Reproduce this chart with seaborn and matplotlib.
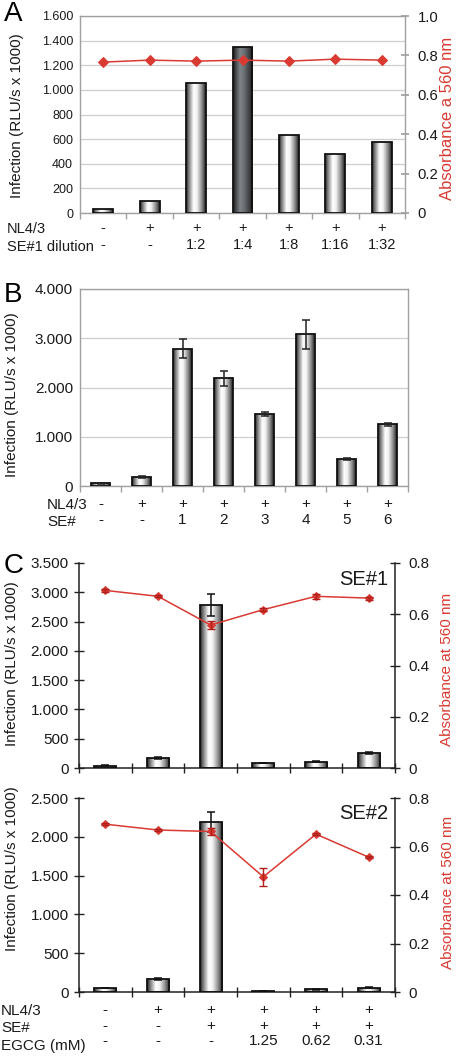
import numpy as np
import pandas as pd
import matplotlib
matplotlib.use("Agg")
import matplotlib.pyplot as plt
import seaborn as sns
from matplotlib.colors import LinearSegmentedColormap
from matplotlib.ticker import FuncFormatter, MultipleLocator

# ---------------- data ----------------
a_nl43 = ['-', '+', '+', '+', '+', '+', '+']
a_dilution = ['-', '-', '1:2', '1:4', '1:8', '1:16', '1:32']
a_infection = [30, 95, 1055, 1350, 635, 478, 580]
a_absorbance = [0.766, 0.776, 0.771, 0.776, 0.771, 0.781, 0.776]

b_nl43 = ['-', '+', '+', '+', '+', '+', '+', '+']
b_se = ['-', '-', '1', '2', '3', '4', '5', '6']
b_infection = [60, 175, 2790, 2185, 1465, 3080, 545, 1255]
b_err = [10, 20, 190, 150, 40, 290, 15, 30]

c_nl43 = ['-', '+', '+', '+', '+', '+']
c_se = ['-', '-', '+', '+', '+', '+']
c_egcg = ['-', '-', '-', '1.25', '0.62', '0.31']
c1_infection = [40, 170, 2780, 85, 110, 255]
c1_err = [5, 15, 190, 5, 8, 12]
c1_absorbance = [0.693, 0.670, 0.558, 0.618, 0.670, 0.663]
c1_abs_err = [0.005, 0.004, 0.016, 0.006, 0.010, 0.006]
c2_infection = [50, 170, 2190, 15, 35, 55]
c2_err = [4, 12, 125, 3, 6, 5]
c2_absorbance = [0.692, 0.668, 0.662, 0.475, 0.651, 0.556]
c2_abs_err = [0.004, 0.004, 0.014, 0.038, 0.004, 0.004]

# ---------------- style ----------------
sns.set_theme(style="white")
plt.rcParams['font.family'] = ['Liberation Sans', 'DejaVu Sans']
TXT = '#1a1a1a'
RED = '#d93a32'
GRAY = '#a0a0a0'

light_cmap = LinearSegmentedColormap.from_list(
    'light', [(0, '#1c1c1c'), (0.12, '#707070'), (0.38, '#ffffff'),
              (0.55, '#f2f2f2'), (0.8, '#8a8a8a'), (1, '#1c1c1c')])
dark_cmap = LinearSegmentedColormap.from_list(
    'dark', [(0, '#1c1c1c'), (0.35, '#7e8388'), (0.55, '#6d7277'),
             (1, '#1e1e1e')])


def thousands(v, pos=None):
    return f"{int(round(v)):,}".replace(',', '.')


def frac(v, pos=None):
    return '0' if abs(v) < 1e-9 else f"{v:.1f}"


def shade_bars(ax, cmaps):
    grad = np.linspace(0, 1, 256).reshape(1, -1)
    for p, cm in zip(ax.patches, cmaps):
        x0, y0 = p.get_x(), p.get_y()
        w, h = p.get_width(), p.get_height()
        p.set_facecolor('none')
        p.set_zorder(3)
        im = ax.imshow(grad, extent=[x0, x0 + w, y0, y0 + h], aspect='auto',
                       cmap=cm, zorder=2.5, interpolation='bilinear')
        im.set_clip_path(p)


def bars(ax, values, width):
    n = len(values)
    df = pd.DataFrame({'pos': np.arange(n), 'val': values})
    sns.barplot(data=df, x='pos', y='val', ax=ax, width=width, color='white',
                edgecolor='#111111', linewidth=1.3, errorbar=None)
    ax.set_xlim(-0.5, n - 0.5)
    ax.set_xlabel('')
    ax.set_ylabel('')


fig = plt.figure(figsize=(4.57, 10.56), dpi=100)
W, H = 457.0, 1056.0


def add_ax(l, r, t, b):
    return fig.add_axes([l / W, 1 - b / H, (r - l) / W, (b - t) / H])


# ---------------- Panel A ----------------
axA = add_ax(80, 405, 16, 213)
bars(axA, a_infection, 0.43)
nA = len(a_infection)
shade_bars(axA, [dark_cmap if d == '1:4' else light_cmap for d in a_dilution])
axA.set_ylim(0, 1600)
axA.yaxis.set_major_locator(MultipleLocator(200))
axA.yaxis.set_major_formatter(FuncFormatter(thousands))
axA.set_axisbelow(True)
axA.yaxis.grid(True, color='#cfcfcf', lw=0.9)
for s in axA.spines.values():
    s.set_color(GRAY)
    s.set_linewidth(1.0)
axA.set_xticks(range(nA))
axA.set_xticklabels([f"{a}\n{b}" for a, b in zip(a_nl43, a_dilution)],
                    fontsize=10.5, color=TXT, linespacing=1.2)
axA.set_xticks(np.arange(nA + 1) - 0.5, minor=True)
axA.tick_params(axis='x', which='major', length=0, pad=6)
axA.tick_params(axis='x', which='minor', length=4, color=GRAY, direction='out', bottom=True)
axA.tick_params(axis='y', labelsize=9, colors=TXT, length=0, pad=5)
axA2 = axA.twinx()
sns.lineplot(x=np.arange(nA), y=a_absorbance, ax=axA2, color=RED, marker='D',
             markersize=5, markeredgecolor=RED, lw=1.1)
axA2.set_ylim(0, 1.0)
axA2.yaxis.set_major_locator(MultipleLocator(0.2))
axA2.yaxis.set_major_formatter(FuncFormatter(frac))
axA2.tick_params(axis='y', labelsize=10.7, labelcolor=TXT, color=GRAY,
                 direction='inout', length=6, pad=6)
for s in axA2.spines.values():
    s.set_visible(False)
axA2.set_xlim(-0.5, nA - 0.5)
fig.text(17 / W, 1 - 116 / H, 'Infection (RLU/s x 1000)', rotation=90,
         ha='center', va='center', fontsize=11, color=TXT)
fig.text(448 / W, 1 - 118 / H, 'Absorbance a 560 nm', rotation=90,
         ha='center', va='center', fontsize=12, color=RED)
fig.text(7 / W, 1 - 229 / H, 'NL4/3', ha='left', va='center', fontsize=10.5, color=TXT)
fig.text(7 / W, 1 - 247 / H, 'SE#1 dilution', ha='left', va='center', fontsize=10.5, color=TXT)
fig.text(4 / W, 1 - 1 / H, 'A', ha='left', va='top', fontsize=20, color='black')

# ---------------- Panel B ----------------
axB = add_ax(80, 408, 289, 486)
bars(axB, b_infection, 0.45)
nB = len(b_infection)
shade_bars(axB, [light_cmap] * nB)
axB.errorbar(np.arange(nB), b_infection, yerr=b_err, fmt='none', ecolor='#222222',
             elinewidth=1.1, capsize=3.2, capthick=1.1, zorder=4)
axB.set_ylim(0, 4000)
axB.yaxis.set_major_locator(MultipleLocator(1000))
axB.yaxis.set_major_formatter(FuncFormatter(thousands))
axB.set_axisbelow(True)
axB.yaxis.grid(True, color='#cfcfcf', lw=0.9)
for s in axB.spines.values():
    s.set_color(GRAY)
    s.set_linewidth(1.0)
axB.set_xticks(range(nB))
axB.set_xticklabels([f"{a}\n{b}" for a, b in zip(b_nl43, b_se)],
                    fontsize=11, color=TXT, linespacing=1.15)
axB.set_xticks(np.arange(nB + 1) - 0.5, minor=True)
axB.tick_params(axis='x', which='major', length=0, pad=8)
axB.tick_params(axis='x', which='minor', length=4, color=GRAY, direction='out', bottom=True)
axB.tick_params(axis='y', labelsize=11, colors=TXT, length=0, pad=5)
fig.text(12 / W, 1 - 395 / H, 'Infection (RLU/s x 1000)', rotation=90,
         ha='center', va='center', fontsize=11, color=TXT)
fig.text(47 / W, 1 - 505 / H, 'NL4/3', ha='left', va='center', fontsize=11, color=TXT)
fig.text(47 / W, 1 - 522 / H, 'SE#', ha='left', va='center', fontsize=11, color=TXT)
fig.text(4 / W, 1 - 282 / H, 'B', ha='left', va='top', fontsize=20, color='black')


# ---------------- Panel C ----------------
def panel_c(ax, infection, err, absorb, abs_err, ymax, tag):
    n = len(infection)
    bars(ax, infection, 0.42)
    shade_bars(ax, [light_cmap] * n)
    ax.errorbar(np.arange(n), infection, yerr=err, fmt='none', ecolor='#111111',
                elinewidth=1.1, capsize=3.2, capthick=1.1, zorder=4)
    ax.set_ylim(0, ymax)
    ax.yaxis.set_major_locator(MultipleLocator(500))
    ax.yaxis.set_major_formatter(FuncFormatter(thousands))
    ax.spines['top'].set_visible(False)
    for k in ('left', 'bottom', 'right'):
        ax.spines[k].set_color('#222222')
        ax.spines[k].set_linewidth(1.1)
    ax.set_xticks(np.arange(n + 1) - 0.5, minor=True)
    ax.tick_params(axis='x', which='minor', length=7, color='#222222',
                   direction='inout', bottom=True, width=1.0)
    ax.tick_params(axis='y', labelsize=11, labelcolor=TXT, color='#222222',
                   direction='inout', length=7, width=1.0, left=True, pad=4)
    ax2 = ax.twinx()
    sns.lineplot(x=np.arange(n), y=absorb, ax=ax2, color=RED, marker='D',
                 markersize=4.5, markeredgecolor=RED, lw=1.1)
    ax2.errorbar(np.arange(n), absorb, yerr=abs_err, fmt='none', ecolor='#b0201a',
                 elinewidth=1.0, capsize=3, capthick=1.0, zorder=5)
    ax2.set_ylim(0, 0.8)
    ax2.yaxis.set_major_locator(MultipleLocator(0.2))
    ax2.yaxis.set_major_formatter(FuncFormatter(frac))
    ax2.tick_params(axis='y', labelsize=11, labelcolor=TXT, color='#222222',
                    direction='inout', length=7, width=1.0, right=True, pad=6)
    for s in ax2.spines.values():
        s.set_visible(False)
    ax2.set_xlim(-0.5, n - 0.5)
    ax.text(0.978, 0.92, tag, transform=ax.transAxes, ha='right', va='center',
            fontsize=14.5, color=TXT, zorder=6)
    return ax2


axC1 = add_ax(79, 395, 563, 768)
panel_c(axC1, c1_infection, c1_err, c1_absorbance, c1_abs_err, 3500, 'SE#1')
axC1.set_xticks(range(len(c1_infection)))
axC1.set_xticklabels([])
axC1.tick_params(axis='x', which='major', length=0)

axC2 = add_ax(79, 395, 798, 992)
panel_c(axC2, c2_infection, c2_err, c2_absorbance, c2_abs_err, 2500, 'SE#2')
axC2.set_xticks(range(len(c2_infection)))
axC2.set_xticklabels([f"{a}\n{b}\n{c}" for a, b, c in zip(c_nl43, c_se, c_egcg)],
                     fontsize=11, color=TXT, linespacing=1.15)
axC2.tick_params(axis='x', which='major', length=0, pad=8)

fig.text(12 / W, 1 - 664 / H, 'Infection (RLU/s x 1000)', rotation=90,
         ha='center', va='center', fontsize=11, color=TXT)
fig.text(12 / W, 1 - 869 / H, 'Infection (RLU/s x 1000)', rotation=90,
         ha='center', va='center', fontsize=11, color=TXT)
fig.text(447 / W, 1 - 669 / H, 'Absorbance at 560 nm', rotation=90,
         ha='center', va='center', fontsize=11, color=RED)
fig.text(448 / W, 1 - 892 / H, 'Absorbance at 560 nm', rotation=90,
         ha='center', va='center', fontsize=11, color=RED)
fig.text(1 / W, 1 - 1011 / H, 'NL4/3', ha='left', va='center', fontsize=11, color=TXT)
fig.text(1 / W, 1 - 1028 / H, 'SE#', ha='left', va='center', fontsize=11, color=TXT)
fig.text(1 / W, 1 - 1046 / H, 'EGCG (mM)', ha='left', va='center', fontsize=11, color=TXT)
fig.text(4 / W, 1 - 553 / H, 'C', ha='left', va='top', fontsize=20, color='black')

fig.savefig('out.png', dpi=100)
